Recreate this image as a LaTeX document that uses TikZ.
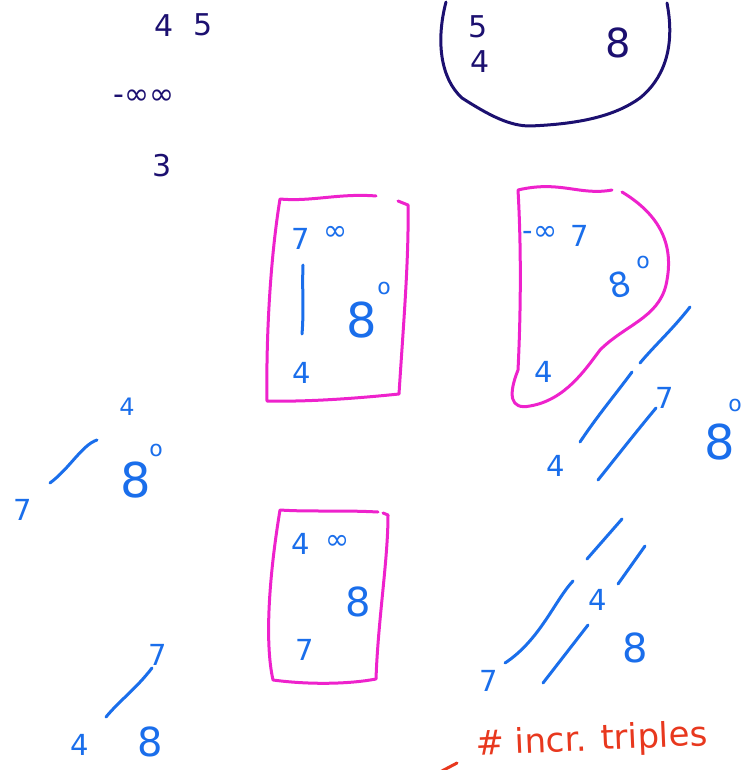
\documentclass[tikz,border=0pt]{standalone}
\usepackage{fontspec}
\setmainfont{DejaVu Sans}
\definecolor{navy}{HTML}{1C1070}
\definecolor{pen}{HTML}{1A6EEB}
\definecolor{mag}{HTML}{EE22CC}
\definecolor{redpen}{HTML}{E8381E}
\tikzset{
  ink/.style={line width=3pt, line cap=round, line join=round},
  nv/.style={text=navy, font=\fontsize{30}{32}\selectfont, inner sep=0pt},
  bl/.style={text=pen, font=\fontsize{29}{31}\selectfont, inner sep=0pt},
  big/.style={text=pen, font=\fontsize{48}{50}\selectfont, inner sep=0pt},
  sup/.style={text=pen, font=\fontsize{22}{24}\selectfont, inner sep=0pt},
  box/.style={ink, draw=mag},
  stroke/.style={ink, draw=pen},
}
\begin{document}
\begin{tikzpicture}[x=1pt,y=-1pt]
\useasboundingbox (0,0) rectangle (743,770);
% top left
\node[nv] (a4) at (164,26) {4};
\node[nv] (a5) at (203,25) {5};
\node[nv] (ainf) at (144,97) {-∞∞};
\node[nv] (a3) at (162,166) {3};
% circle
\draw[ink, draw=navy] (446,2) .. controls (436,40) and (440,78) .. (462,98)
  .. controls (490,116) and (510,126) .. (530,126)
  .. controls (580,124) and (615,116) .. (640,98)
  .. controls (662,80) and (676,50) .. (667,3);
\node[nv] (c5) at (478,27) {5};
\node[nv] (c4) at (480,62) {4};
\node[nv, font=\fontsize{40}{42}\selectfont] (c8) at (618,43) {8};
% box 1
\draw[box] (376,196) .. controls (340,193) and (310,202) .. (280,199)
  .. controls (270,260) and (266,340) .. (267,401)
  .. controls (310,402) and (360,398) .. (399,394)
  .. controls (403,330) and (409,260) .. (408,205) -- (398,201);
\node[bl] (b7) at (301,239) {7};
\node[bl] (binf) at (336,233) {∞};
\draw[stroke] (303,265) .. controls (302,290) and (304,310) .. (302,334);
\node[bl] (b4) at (302,373) {4};
\node[big] (b8) at (362,320) {8};
\node[sup] (bo) at (384,288) {o};
% box 2 blob
\draw[box] (612,190) .. controls (580,196) and (560,180) .. (518,190)
  .. controls (522,260) and (520,330) .. (518,370)
  .. controls (508,395) and (510,410) .. (530,406)
  .. controls (565,400) and (585,370) .. (600,350)
  .. controls (625,325) and (658,318) .. (666,285)
  .. controls (675,245) and (660,215) .. (622,192);
\node[bl] (dinf) at (540,233) {-∞};
\node[bl] (d7) at (580,236) {7};
\node[bl, font=\fontsize{34}{36}\selectfont, rotate=15] (d8) at (620,285) {8};
\node[sup] (do) at (643,262) {o};
\node[bl] (d4) at (544,372) {4};
% left middle
\node[bl, font=\fontsize{24}{26}\selectfont] (l4) at (127,407) {4};
\draw[stroke] (50,483) .. controls (70,468) and (82,445) .. (97,440);
\node[bl] (l7) at (23,510) {7};
\node[big] (l8) at (136,480) {8};
\node[sup] (lo) at (156,450) {o};
% right middle diagonals
\draw[stroke] (690,307) .. controls (672,330) and (655,345) .. (640,363);
\draw[stroke] (632,372) .. controls (615,395) and (598,415) .. (580,442);
\draw[stroke] (656,408) .. controls (636,432) and (618,455) .. (598,480);
\node[bl] (r7) at (665,398) {7};
\node[bl] (r4) at (556,466) {4};
\node[big] (r8) at (720,442) {8};
\node[sup] (ro) at (735,405) {o};
% box 3
\draw[box] (378,512) .. controls (340,510) and (310,512) .. (280,510)
  .. controls (270,570) and (264,640) .. (273,680)
  .. controls (310,685) and (350,684) .. (376,679)
  .. controls (378,620) and (388,560) .. (388,515) -- (383,513);
\node[bl] (e4) at (301,544) {4};
\node[bl] (einf) at (338,542) {∞};
\node[big, font=\fontsize{40}{42}\selectfont] (e8) at (358,602) {8};
\node[bl] (e7) at (305,650) {7};
% bottom right diagonals
\draw[stroke] (622,519) -- (587,559);
\draw[stroke] (645,546) -- (618,584);
\draw[stroke] (573,581) .. controls (555,600) and (540,640) .. (505,663);
\draw[stroke] (588,625) -- (543,683);
\node[bl] (s4) at (598,600) {4};
\node[big, font=\fontsize{40}{42}\selectfont] (s8) at (635,648) {8};
\node[bl] (s7) at (489,681) {7};
% bottom left
\draw[stroke] (106,717) .. controls (120,700) and (135,690) .. (152,668);
\node[bl] (t7) at (158,655) {7};
\node[bl] (t4) at (80,745) {4};
\node[big, font=\fontsize{40}{42}\selectfont] (t8) at (150,742) {8};
% red note
\draw[ink, draw=redpen] (440,772) -- (457,763);
\node[text=redpen, font=\fontsize{34}{36}\selectfont, inner sep=0pt, anchor=west, rotate=2.5] (note) at (476,746) {\# incr. triples};
\end{tikzpicture}
\end{document}
